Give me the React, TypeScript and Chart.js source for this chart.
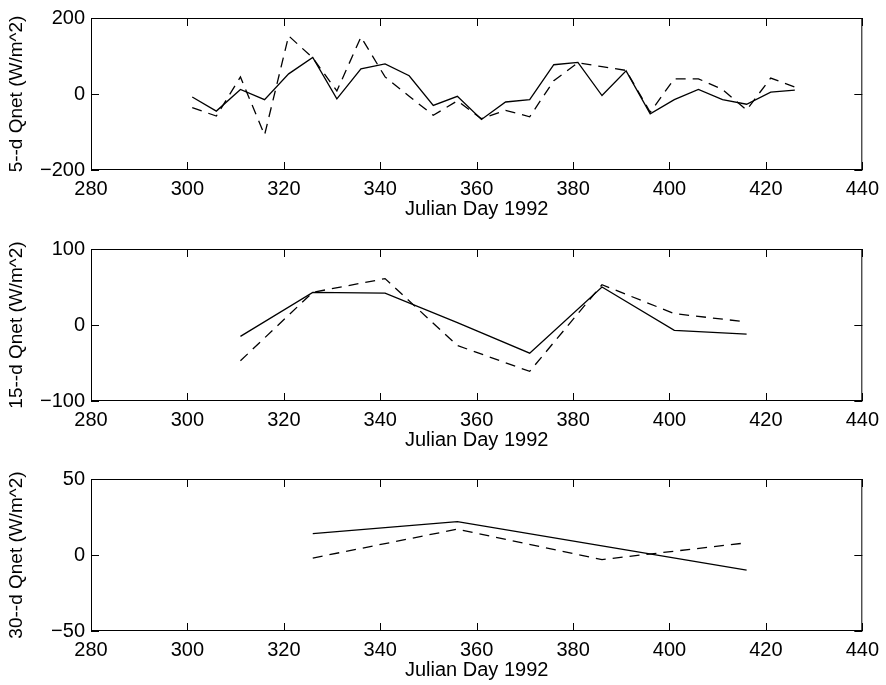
import React, { useEffect, useRef } from "react";
import { Chart, registerables } from "chart.js";

Chart.register(...registerables);

const FONT_FAMILY = '"Liberation Sans", Arial, Helvetica, sans-serif';

// Shared x-axis (Julian day) ticks
const xTicks = [280, 300, 320, 340, 360, 380, 400, 420, 440];
const xTitle = "Julian Day 1992";

// 5-day averages
const days5 = [301, 306, 311, 316, 321, 326, 331, 336, 341, 346, 351, 356, 361, 366, 371, 376, 381, 386, 391, 396, 401, 406, 411, 416, 421, 426];
const solid5 = [-8, -45, 12, -15, 53, 96, -13, 66, 79, 48, -30, -6, -67, -21, -15, 77, 83, -4, 61, -52, -15, 12, -15, -27, 5, 10];
const dashed5 = [-36, -58, 45, -108, 153, 95, 8, 150, 45, -6, -56, -18, -65, -43, -60, 35, 82, 72, 62, -48, 40, 40, 12, -42, 42, 18];
const yTicks5 = [-200, 0, 200];

// 15-day averages
const days15 = [311, 326, 341, 356, 371, 386, 401, 416];
const solid15 = [-15, 43, 42, 3, -37, 50, -7, -12];
const dashed15 = [-47, 43, 61, -27, -61, 53, 15, 4];
const yTicks15 = [-100, 0, 100];

// 30-day averages
const days30 = [326, 356, 386, 416];
const solid30 = [14, 22, 6, -10];
const dashed30 = [-2, 17, -3, 8];
const yTicks30 = [-50, 0, 50];

const minus = (v: number) => (v < 0 ? "\u2212" + Math.abs(v) : String(v));

// Draws the closed axes box with inward-pointing tick marks on all four sides.
const boxPlugin = {
  id: "boxTicks",
  afterDraw(chart: any) {
    const { ctx, chartArea: a, scales } = chart;
    const xs = scales.x;
    const ys = scales.y;
    const len = 8;
    ctx.save();
    ctx.strokeStyle = "#000";
    ctx.lineWidth = 1;
    ctx.strokeRect(a.left + 0.5, a.top + 0.5, a.right - a.left - 1, a.bottom - a.top - 1);
    ctx.beginPath();
    xs.ticks.forEach((t: any) => {
      const px = Math.round(xs.getPixelForValue(t.value)) + 0.5;
      ctx.moveTo(px, a.bottom);
      ctx.lineTo(px, a.bottom - len);
      ctx.moveTo(px, a.top);
      ctx.lineTo(px, a.top + len);
    });
    ys.ticks.forEach((t: any) => {
      const py = Math.round(ys.getPixelForValue(t.value)) + 0.5;
      ctx.moveTo(a.left, py);
      ctx.lineTo(a.left + len, py);
      ctx.moveTo(a.right, py);
      ctx.lineTo(a.right - len, py);
    });
    ctx.stroke();
    ctx.restore();
  },
};

type PanelProps = {
  days: number[];
  solid: number[];
  dashed: number[];
  yTicks: number[];
  yTitle: string;
  top: number;
};

const CANVAS_W = 886;
const CANVAS_H = 224;

function Panel({ days, solid, dashed, yTicks, yTitle, top }: PanelProps) {
  const ref = useRef<HTMLCanvasElement | null>(null);

  useEffect(() => {
    if (!ref.current) return;
    const toPoints = (vals: number[]) => vals.map((v, i) => ({ x: days[i], y: v }));
    const yStep = yTicks[1] - yTicks[0];
    const chart = new Chart(ref.current, {
      type: "line",
      data: {
        datasets: [
          {
            data: toPoints(solid),
            borderColor: "#000",
            borderWidth: 1.3,
            pointRadius: 0,
            tension: 0,
            fill: false,
          },
          {
            data: toPoints(dashed),
            borderColor: "#000",
            borderWidth: 1.3,
            borderDash: [10, 7],
            pointRadius: 0,
            tension: 0,
            fill: false,
          },
        ],
      },
      options: {
        responsive: false,
        animation: false,
        devicePixelRatio: 1,
        layout: { padding: { top: 16, right: 20, bottom: 0, left: 0 } },
        plugins: {
          legend: { display: false },
          tooltip: { enabled: false },
        },
        scales: {
          x: {
            type: "linear",
            min: xTicks[0],
            max: xTicks[xTicks.length - 1],
            afterBuildTicks: (s: any) => {
              s.ticks = xTicks.map((v) => ({ value: v }));
            },
            afterFit: (s: any) => {
              s.height = 54;
            },
            grid: { display: false, drawTicks: false },
            border: { display: false },
            ticks: {
              autoSkip: false,
              maxRotation: 0,
              padding: 7,
              color: "#000",
              font: { family: FONT_FAMILY, size: 20 },
            },
            title: {
              display: true,
              text: xTitle,
              color: "#000",
              padding: { top: 0, bottom: 3 },
              font: { family: FONT_FAMILY, size: 20 },
            },
          },
          y: {
            type: "linear",
            min: yTicks[0],
            max: yTicks[yTicks.length - 1],
            ticks: {
              stepSize: yStep,
              padding: 6,
              color: "#000",
              font: { family: FONT_FAMILY, size: 20 },
              callback: (v: any) => minus(Number(v)),
            },
            afterFit: (s: any) => {
              s.width = 91;
            },
            grid: { display: false, drawTicks: false },
            border: { display: false },
            title: {
              display: true,
              text: yTitle,
              color: "#000",
              padding: { top: 5, bottom: 0 },
              font: { family: FONT_FAMILY, size: 19 },
            },
          },
        },
      },
      plugins: [boxPlugin],
    } as any);
    return () => chart.destroy();
  }, [days, solid, dashed, yTicks, yTitle]);

  return (
    <canvas
      ref={ref}
      width={CANVAS_W}
      height={CANVAS_H}
      style={{ position: "absolute", left: 0, top, width: CANVAS_W, height: CANVAS_H }}
    />
  );
}

export default function App() {
  return (
    <div
      style={{
        position: "absolute",
        left: 0,
        top: 0,
        width: 886,
        height: 685,
        background: "#fff",
        overflow: "hidden",
      }}
    >
      <Panel days={days5} solid={solid5} dashed={dashed5} yTicks={yTicks5} yTitle="5--d Qnet (W/m^2)" top={0} />
      <Panel days={days15} solid={solid15} dashed={dashed15} yTicks={yTicks15} yTitle="15--d Qnet (W/m^2)" top={231} />
      <Panel days={days30} solid={solid30} dashed={dashed30} yTicks={yTicks30} yTitle="30--d Qnet (W/m^2)" top={461} />
    </div>
  );
}
